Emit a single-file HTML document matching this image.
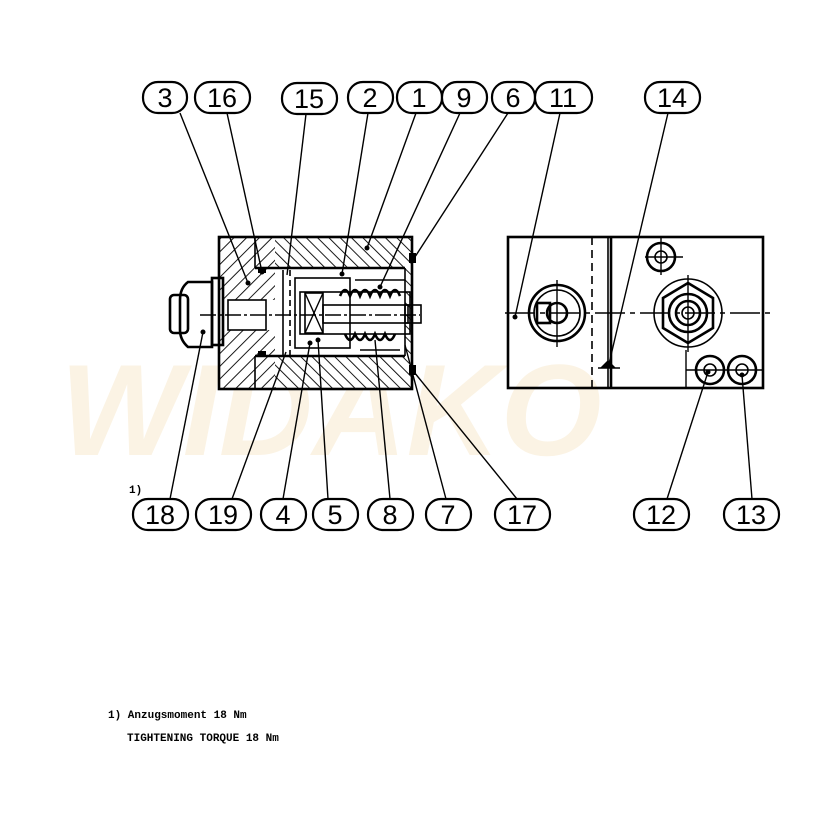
<!DOCTYPE html>
<html><head><meta charset="utf-8"><style>
html,body{margin:0;padding:0;background:#fff;}
svg{display:block;}
.b{fill:#fff;stroke:#000;stroke-width:2.2;}
.t{font-family:"Liberation Sans",sans-serif;font-size:27px;text-anchor:middle;fill:#000;}
.l{stroke:#000;stroke-width:1.4;fill:none;}
.k{stroke:#000;stroke-width:2.6;fill:none;}
.m{stroke:#000;stroke-width:1.6;fill:none;}
.f{font-family:"Liberation Mono",monospace;font-size:11px;font-weight:bold;fill:#000;}
</style></head><body>
<svg width="828" height="816" viewBox="0 0 828 816" xmlns="http://www.w3.org/2000/svg">
<defs>
<pattern id="h" width="9" height="9" patternUnits="userSpaceOnUse" patternTransform="rotate(45)">
<rect width="9" height="9" fill="#fff"/><line x1="0" y1="0" x2="0" y2="9" stroke="#000" stroke-width="1.8"/></pattern>
<pattern id="h2" width="8" height="8" patternUnits="userSpaceOnUse" patternTransform="rotate(-45)">
<rect width="8" height="8" fill="#fff"/><line x1="0" y1="0" x2="0" y2="8" stroke="#000" stroke-width="1.8"/></pattern>
</defs>
<text x="60" y="455" font-family="Liberation Sans" font-size="130" font-weight="bold" font-style="italic" fill="#fbf3e4">WIDAKO</text>

<rect x="219" y="237" width="193" height="152" fill="url(#h2)"/>
<rect x="219" y="237" width="56" height="152" fill="url(#h)"/>
<rect x="275" y="268" width="130" height="88" fill="#fff"/>
<rect x="219" y="300" width="56" height="30" fill="#fff"/>
<rect x="228" y="300" width="38" height="30" class="m"/>
<rect x="219" y="237" width="193" height="152" class="k"/>
<line x1="255" y1="237" x2="255" y2="268" class="m"/>
<line x1="255" y1="268" x2="405" y2="268" class="k"/>
<line x1="255" y1="356" x2="405" y2="356" class="k"/>
<line x1="255" y1="356" x2="255" y2="389" class="m"/>
<line x1="405" y1="268" x2="405" y2="356" class="m"/>
<rect x="295" y="278" width="55" height="70" fill="url(#h)" class="m"/>
<rect x="300" y="292" width="110" height="42" fill="#fff" class="m"/>
<rect x="305" y="293" width="18" height="40" class="m"/>
<line x1="305" y1="293" x2="323" y2="333" class="l"/><line x1="323" y1="293" x2="305" y2="333" class="l"/>
<rect x="323" y="305" width="85" height="18" class="m"/>
<rect x="405" y="305" width="16" height="18" class="m"/>
<line x1="283" y1="270" x2="283" y2="355" class="m"/>
<line x1="290" y1="270" x2="290" y2="355" class="m" stroke-dasharray="6 4"/>
<line x1="200" y1="315" x2="420" y2="315" class="l" stroke-dasharray="16 3 3 3"/>
<path d="M340 296 q5 -12 10 0 q5 -12 10 0 q5 -12 10 0 q5 -12 10 0 q5 -12 10 0 q5 -12 10 0" class="k"/>
<path d="M345 334 q5 12 10 0 q5 12 10 0 q5 12 10 0 q5 12 10 0 q5 12 10 0" class="k"/>
<line x1="355" y1="280" x2="405" y2="280" class="m"/>
<line x1="360" y1="350" x2="400" y2="350" class="m"/>
<rect x="409" y="253" width="7" height="10" fill="#000"/>
<rect x="409" y="365" width="7" height="10" fill="#000"/>
<rect x="258" y="268" width="8" height="5" fill="#000"/>
<rect x="258" y="351" width="8" height="5" fill="#000"/>
<rect x="212" y="278" width="11" height="67" fill="#fff" class="k"/>
<path d="M188 282 H212 V347 H188 Q180 340 180 330 V300 Q180 288 188 282 Z" fill="#fff" class="k"/>
<rect x="170" y="295" width="18" height="38" rx="4" fill="#fff" class="k"/>
<line x1="180" y1="300" x2="180" y2="328" class="m" stroke-dasharray="4 3"/>

<rect x="508" y="237" width="255" height="151" fill="none" class="k"/>
<line x1="611" y1="237" x2="611" y2="388" class="k"/>
<line x1="608" y1="237" x2="608" y2="388" class="m"/>
<line x1="592" y1="237" x2="592" y2="388" class="m" stroke-dasharray="8 5"/>
<line x1="505" y1="313" x2="770" y2="313" class="l" stroke-dasharray="30 5 5 5"/>
<circle cx="557" cy="313" r="28" class="k" stroke-width="3.5"/>
<circle cx="557" cy="313" r="23" class="m"/>
<rect x="537" y="303" width="13" height="20" class="k"/>
<circle cx="557" cy="313" r="10" class="k"/>
<line x1="557" y1="280" x2="557" y2="347" class="l"/>
<circle cx="661" cy="257" r="14" class="k" stroke-width="3.5"/>
<circle cx="661" cy="257" r="6" class="m"/>
<line x1="645" y1="257" x2="683" y2="257" class="l"/><line x1="661" y1="237" x2="661" y2="275" class="l"/>
<circle cx="688" cy="313" r="34" class="m"/>
<polygon points="688,283 713,298 713,328 688,343 663,328 663,298" class="k"/>
<circle cx="688" cy="313" r="19" class="k"/>
<circle cx="688" cy="313" r="12" class="k"/>
<circle cx="688" cy="313" r="6" class="m"/>
<line x1="688" y1="275" x2="688" y2="352" class="l"/>
<circle cx="710" cy="370" r="14" class="k" stroke-width="3.5"/>
<circle cx="710" cy="370" r="6" class="m"/>
<circle cx="742" cy="370" r="14" class="k" stroke-width="3.5"/>
<circle cx="742" cy="370" r="6" class="m"/>
<line x1="686" y1="370" x2="763" y2="370" class="l"/>
<line x1="686" y1="350" x2="686" y2="388" class="l"/>
<path d="M600 368 L608 360 L616 368 Z" fill="#000"/>
<line x1="598" y1="368" x2="620" y2="368" class="m"/>

<g class="l" stroke="#000">
<line x1="180" y1="113" x2="248" y2="283"/>
<line x1="227" y1="113" x2="262" y2="272"/>
<line x1="306" y1="114" x2="287" y2="275"/>
<line x1="368" y1="113" x2="342" y2="274"/>
<line x1="416" y1="113" x2="367" y2="248"/>
<line x1="460" y1="113" x2="380" y2="287"/>
<line x1="508" y1="113" x2="413" y2="260"/>
<line x1="560" y1="113" x2="515" y2="317"/>
<line x1="668" y1="113" x2="608" y2="368"/>
<line x1="170" y1="499" x2="203" y2="332"/>
<line x1="232" y1="499" x2="286" y2="352"/>
<line x1="283" y1="499" x2="310" y2="343"/>
<line x1="328" y1="499" x2="318" y2="340"/>
<line x1="390" y1="499" x2="375" y2="340"/>
<line x1="446" y1="499" x2="405" y2="345"/>
<line x1="517" y1="499" x2="414" y2="372"/>
<line x1="667" y1="499" x2="708" y2="372"/>
<line x1="752" y1="499" x2="742" y2="375"/>
</g>
<g fill="#000">
<circle cx="248" cy="283" r="2.5"/><circle cx="262" cy="272" r="2.5"/><circle cx="342" cy="274" r="2.5"/>
<circle cx="367" cy="248" r="2.5"/><circle cx="380" cy="287" r="2.5"/><circle cx="515" cy="317" r="2.5"/>
<circle cx="203" cy="332" r="2.5"/><circle cx="310" cy="343" r="2.5"/><circle cx="318" cy="340" r="2.5"/>
<circle cx="708" cy="372" r="2.5"/><circle cx="742" cy="375" r="2.5"/>
</g>

<g>
<rect class="b" x="143" y="82" width="44" height="31" rx="15"/><text class="t" x="165" y="107">3</text>
<rect class="b" x="195" y="82" width="55" height="31" rx="15"/><text class="t" x="222" y="107">16</text>
<rect class="b" x="282" y="83" width="55" height="31" rx="15"/><text class="t" x="309" y="108">15</text>
<rect class="b" x="348" y="82" width="45" height="31" rx="15"/><text class="t" x="370" y="107">2</text>
<rect class="b" x="397" y="82" width="45" height="31" rx="15"/><text class="t" x="419" y="107">1</text>
<rect class="b" x="442" y="82" width="45" height="31" rx="15"/><text class="t" x="464" y="107">9</text>
<rect class="b" x="492" y="82" width="43" height="31" rx="15"/><text class="t" x="513" y="107">6</text>
<rect class="b" x="535" y="82" width="57" height="31" rx="15"/><text class="t" x="563" y="107">11</text>
<rect class="b" x="645" y="82" width="55" height="31" rx="15"/><text class="t" x="672" y="107">14</text>
<rect class="b" x="133" y="499" width="55" height="31" rx="15"/><text class="t" x="160" y="524">18</text>
<rect class="b" x="196" y="499" width="55" height="31" rx="15"/><text class="t" x="223" y="524">19</text>
<rect class="b" x="261" y="499" width="45" height="31" rx="15"/><text class="t" x="283" y="524">4</text>
<rect class="b" x="313" y="499" width="45" height="31" rx="15"/><text class="t" x="335" y="524">5</text>
<rect class="b" x="368" y="499" width="45" height="31" rx="15"/><text class="t" x="390" y="524">8</text>
<rect class="b" x="426" y="499" width="45" height="31" rx="15"/><text class="t" x="448" y="524">7</text>
<rect class="b" x="495" y="499" width="55" height="31" rx="15"/><text class="t" x="522" y="524">17</text>
<rect class="b" x="634" y="499" width="55" height="31" rx="15"/><text class="t" x="661" y="524">12</text>
<rect class="b" x="724" y="499" width="55" height="31" rx="15"/><text class="t" x="751" y="524">13</text>
</g>

<text class="f" x="129" y="493">1)</text>
<text class="f" x="108" y="718">1) Anzugsmoment 18 Nm</text>
<text class="f" x="127" y="741">TIGHTENING TORQUE 18 Nm</text>
</svg>
</body></html>
